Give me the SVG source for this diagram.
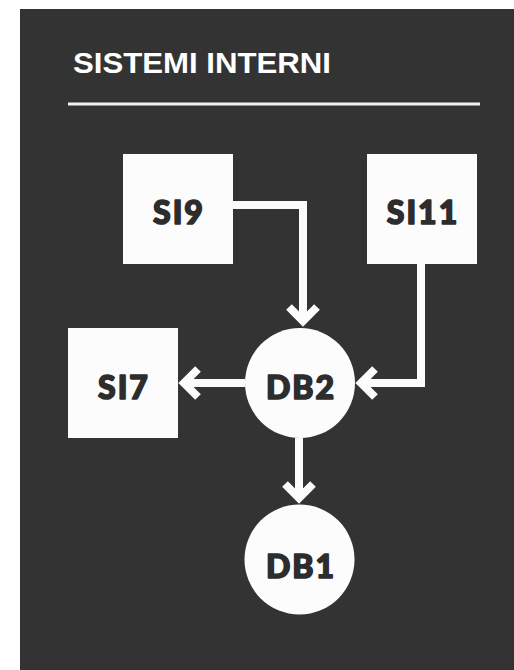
<svg xmlns="http://www.w3.org/2000/svg" width="514" height="670" viewBox="0 0 514 670">
  <style>
    .box { fill: #fcfcfc; }
    .lbl { font-family: "Lato", "Inter", "Liberation Sans", sans-serif; font-weight: 900; font-size: 32px; letter-spacing: 2px; fill: #2d2d2d; stroke: #2d2d2d; stroke-width: 1.6; stroke-linejoin: round; text-anchor: middle; }
    .title { font-family: "Liberation Sans", "Open Sans", sans-serif; font-weight: bold; font-size: 30px; fill: #ffffff; }
    .conn { fill: none; stroke: #fcfcfc; stroke-width: 8; stroke-linejoin: miter; }
  </style>
  <defs>
    <marker id="chev" markerUnits="userSpaceOnUse" orient="auto" refX="0" refY="0" viewBox="-25 -25 40 50" markerWidth="40" markerHeight="50" overflow="visible">
      <path d="M-14,-14 L0,0 L-14,14" fill="none" stroke="#fcfcfc" stroke-width="8" stroke-linejoin="miter" stroke-miterlimit="4"/>
    </marker>
  </defs>
  <rect x="0" y="0" width="514" height="670" fill="#ffffff"/>
  <rect x="20" y="9" width="494" height="661" fill="#333333"/>
  <g id="title">
    <text class="title" x="73" y="73" textLength="258" lengthAdjust="spacingAndGlyphs">SISTEMI INTERNI</text>
    <line x1="68" y1="104" x2="480" y2="104" stroke="#f2f2f2" stroke-width="3"/>
  </g>
  <g id="connectors">
    <path class="conn" d="M233,205 H303 V321" marker-end="url(#chev)"/>
    <path class="conn" d="M421,264 V383 H361" marker-end="url(#chev)"/>
    <path class="conn" d="M245,383 H184" marker-end="url(#chev)"/>
    <path class="conn" d="M299,438 V498" marker-end="url(#chev)"/>
  </g>
  <g id="SI9">
    <rect class="box" x="123" y="154" width="110" height="110"/>
    <text class="lbl" x="179" y="224">SI9</text>
  </g>
  <g id="SI11">
    <rect class="box" x="367" y="154" width="110" height="110"/>
    <text class="lbl" x="423" y="224">SI11</text>
  </g>
  <g id="SI7">
    <rect class="box" x="68" y="328" width="110" height="110"/>
    <text class="lbl" x="124" y="399">SI7</text>
  </g>
  <g id="DB2">
    <circle class="box" cx="300" cy="383" r="55"/>
    <text class="lbl" x="301" y="399">DB2</text>
  </g>
  <g id="DB1">
    <circle class="box" cx="299.5" cy="559.5" r="55"/>
    <text class="lbl" x="301" y="578">DB1</text>
  </g>
</svg>
